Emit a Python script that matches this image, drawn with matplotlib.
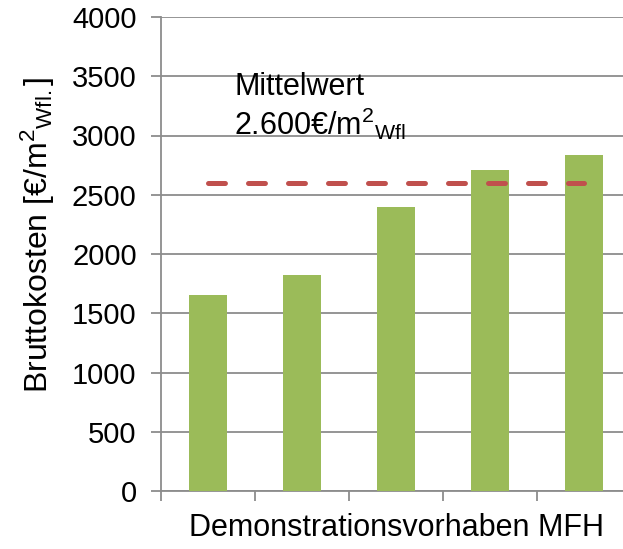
import matplotlib
matplotlib.use("Agg")
import matplotlib.pyplot as plt
from matplotlib.ticker import MultipleLocator, FixedLocator, NullFormatter

plt.rcParams['font.family'] = ['Liberation Sans', 'DejaVu Sans']
plt.rcParams['mathtext.fontset'] = 'custom'
plt.rcParams['mathtext.rm'] = 'Liberation Sans'
plt.rcParams['mathtext.it'] = 'Liberation Sans'
plt.rcParams['lines.scale_dashes'] = False

# Daten
projekte = ["1", "2", "3", "4", "5"]
kosten = [1655, 1825, 2398, 2712, 2838]
mittelwert = 2600

bar_color = "#9BBB59"
line_color = "#C0504D"
grid_color = "#8C8C8C"

fig = plt.figure(figsize=(6.23, 5.49), dpi=100)
ax = fig.add_axes([161/623, 58/549, 470/623, 474/549])

x = list(range(len(projekte)))
ax.bar(x, kosten, width=0.4, color=bar_color, zorder=3)
ax.plot([x[0], x[-1]], [mittelwert, mittelwert], color=line_color, lw=3.6,
        dashes=(12.2, 16.6), dash_capstyle='round', zorder=4)

ax.set_xlim(-0.5, len(projekte) - 0.5)
ax.set_ylim(0, 4000)
ax.yaxis.set_major_locator(MultipleLocator(500))
ax.xaxis.set_major_locator(FixedLocator([i - 0.5 for i in range(len(projekte) + 1)]))
ax.xaxis.set_major_formatter(NullFormatter())

ax.grid(axis='y', color=grid_color, lw=1.3, zorder=0)
for s in ['top', 'right']:
    ax.spines[s].set_visible(False)
for s in ['left', 'bottom']:
    ax.spines[s].set_color(grid_color)
    ax.spines[s].set_linewidth(1.3)

ax.tick_params(axis='y', length=7.5, width=1.3, color=grid_color, pad=10,
               labelsize=21, labelcolor='black')
ax.tick_params(axis='x', length=7.5, width=1.3, color=grid_color)

ax.set_ylabel(r"Bruttokosten [€/m$^2$$_{\mathrm{Wfl.}}$]", fontsize=23)
ax.yaxis.set_label_coords(-0.222, 0.54)
ax.set_xlabel("Demonstrationsvorhaben MFH", fontsize=22, labelpad=5)

ax.text(0.28, 3342, "Mittelwert", fontsize=22, va='baseline', ha='left')
ax.text(0.28, 3004, r"2.600€/m$^2$$_{\mathrm{Wfl}}$", fontsize=22, va='baseline', ha='left')

fig.savefig("out.png", dpi=100)
